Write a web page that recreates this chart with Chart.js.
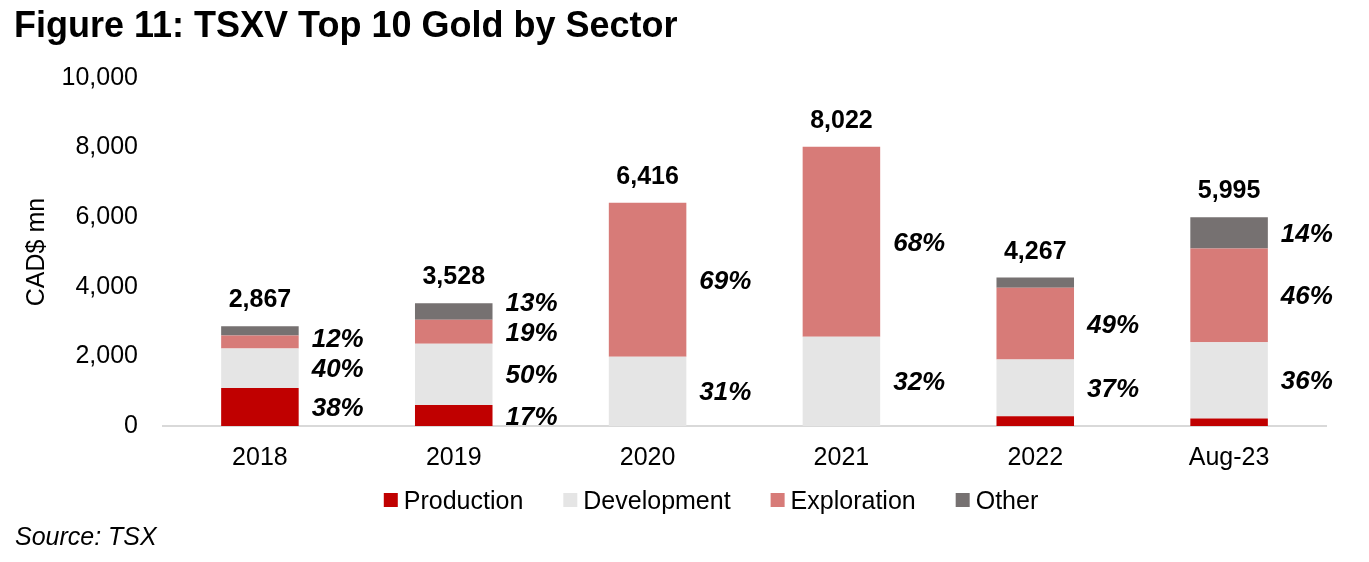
<!DOCTYPE html>
<html>
<head>
<meta charset="utf-8">
<title>TSXV Top 10 Gold by Sector</title>
<script src="https://cdn.jsdelivr.net/npm/chart.js@4.4.0/dist/chart.umd.min.js"></script>
<style>
  html, body { margin: 0; padding: 0; background: #fff; }
  #wrap { width: 1369px; height: 562px; position: relative; }
</style>
</head>
<body>
<div id="wrap"><canvas id="chartSector"></canvas></div>
<script>
const categories = ['2018', '2019', '2020', '2021', '2022', 'Aug-23'];
const production = [1090, 600, 0, 0, 280, 212];
const development = [1140, 1764, 1989, 2567, 1631, 2195];
const exploration = [370, 690, 4427, 5455, 2063, 2693];
const other = [267, 474, 0, 0, 293, 895];
const totals = [2867, 3528, 6416, 8022, 4267, 5995];

// share labels shown beside the bars (null = no label)
const productionPct = ['38%', '17%', null, null, null, null];
const developmentPct = ['40%', '50%', '31%', '32%', '37%', '36%'];
const explorationPct = ['12%', '19%', '69%', '68%', '49%', '46%'];
const otherPct = [null, '13%', null, null, null, '14%'];

const yTicks = [0, 2000, 4000, 6000, 8000, 10000];

const FONT = "'Liberation Sans', Arial, sans-serif";
const pctLabels = [productionPct, developmentPct, explorationPct, otherPct];

const sectorLabels = {
    id: 'sectorLabels',
    afterDatasetsDraw: function (chart) {
        const ctx = chart.ctx;
        ctx.save();
        ctx.fillStyle = '#000';
        ctx.textBaseline = 'alphabetic';

        // percentages next to each segment, pushed apart when segments are thin
        ctx.font = 'italic bold 26px ' + FONT;
        ctx.textAlign = 'left';
        categories.forEach(function (c, j) {
            let lastY = null;
            chart.data.datasets.forEach(function (ds, i) {
                const txt = pctLabels[i][j];
                if (!txt) return;
                const bar = chart.getDatasetMeta(i).data[j];
                let y = (bar.y + bar.base) / 2;
                if (lastY !== null && y > lastY - 30) y = lastY - 30;
                lastY = y;
                ctx.fillText(txt, bar.x + bar.width / 2 + 13, y + 9);
            });
        });

        // totals on top of the stacks
        ctx.font = 'bold 25px ' + FONT;
        ctx.textAlign = 'center';
        totals.forEach(function (t, j) {
            const x = chart.scales.x.getPixelForValue(j);
            const y = chart.scales.y.getPixelForValue(t);
            ctx.fillText(t.toLocaleString('en-US'), x, y - 19);
        });
        ctx.restore();
    }
};

const pageText = {
    id: 'pageText',
    afterDraw: function (chart) {
        const ctx = chart.ctx;
        ctx.save();
        ctx.fillStyle = '#000';
        ctx.textBaseline = 'alphabetic';
        ctx.textAlign = 'left';
        ctx.font = 'bold 36px ' + FONT;
        ctx.fillText('Figure 11: TSXV Top 10 Gold by Sector', 14, 37);
        ctx.font = 'italic 25px ' + FONT;
        ctx.fillText('Source: TSX', 15, 545);

        // legend under the axis
        ctx.font = '25px ' + FONT;
        const items = chart.data.datasets;
        const widths = items.map(function (ds) {
            return 14 + 6 + ctx.measureText(ds.label).width;
        });
        const total = widths.reduce(function (a, b) { return a + b; }, 0) + 40 * (items.length - 1);
        let x = 711 - total / 2;
        items.forEach(function (ds, i) {
            ctx.fillStyle = ds.backgroundColor;
            ctx.fillRect(x, 493, 14, 14);
            ctx.fillStyle = '#000';
            ctx.fillText(ds.label, x + 20, 509);
            x += widths[i] + 40;
        });
        ctx.restore();
    }
};

const ctxSector = document.getElementById('chartSector');
new Chart(ctxSector, {
    type: 'bar',
    data: {
        labels: categories,
        datasets: [
            { label: 'Production', data: production, backgroundColor: '#C00000' },
            { label: 'Development', data: development, backgroundColor: '#E5E5E5' },
            { label: 'Exploration', data: exploration, backgroundColor: '#D77B78' },
            { label: 'Other', data: other, backgroundColor: '#767171' }
        ]
    },
    options: {
        responsive: true,
        maintainAspectRatio: false,
        animation: false,
        datasets: {
            bar: { barPercentage: 0.4, categoryPercentage: 1.0, borderWidth: 0 }
        },
        layout: { padding: { top: 78, left: 12, right: 43, bottom: 89 } },
        plugins: {
            legend: { display: false },
            tooltip: { enabled: false },
            title: { display: false }
        },
        scales: {
            x: {
                stacked: true,
                grid: { display: false, drawTicks: false },
                border: { color: '#D9D9D9', width: 2 },
                ticks: { color: '#000', font: { size: 25, family: FONT }, padding: 17 },
                afterFit: function (axis) { axis.height = 47; }
            },
            y: {
                stacked: true,
                min: yTicks[0],
                max: yTicks[yTicks.length - 1],
                grid: { display: false, drawTicks: false },
                border: { display: false },
                afterBuildTicks: function (axis) {
                    axis.ticks = yTicks.map(function (v) { return { value: v }; });
                },
                afterFit: function (axis) { axis.width = 151; },
                ticks: {
                    color: '#000',
                    font: { size: 25, family: FONT },
                    padding: 25,
                    callback: function (v) { return v.toLocaleString('en-US'); }
                },
                title: {
                    display: true,
                    text: 'CAD$ mn',
                    color: '#000',
                    font: { size: 25, family: FONT },
                    padding: { top: 10, bottom: 10 }
                }
            }
        }
    },
    plugins: [sectorLabels, pageText]
});
</script>
</body>
</html>
